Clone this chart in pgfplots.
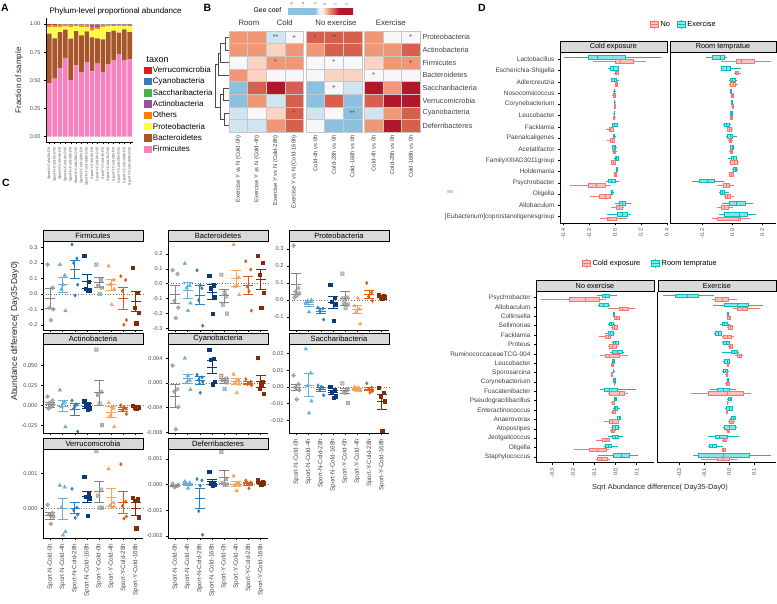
\documentclass[border=0pt]{standalone}
\usepackage{fontspec}
\setmainfont{Liberation Sans}
\usepackage{pgfplots}
\pgfplotsset{compat=1.18}
\usepgfplotslibrary{statistics}
\definecolor{cV}{HTML}{E41A1C}
\definecolor{cC}{HTML}{377EB8}
\definecolor{cS}{HTML}{4DAF4A}
\definecolor{cA}{HTML}{984EA3}
\definecolor{cO}{HTML}{FF7F00}
\definecolor{cP}{HTML}{FFFF33}
\definecolor{cB}{HTML}{A65628}
\definecolor{cF}{HTML}{F781BF}
\definecolor{cG}{HTML}{9A9A9A}
\definecolor{cGd}{HTML}{858585}
\definecolor{cN4}{HTML}{6BAED6}
\definecolor{cN28}{HTML}{2F7EBC}
\definecolor{cN168}{HTML}{0B3A78}
\definecolor{cY4}{HTML}{F7A35C}
\definecolor{cY28}{HTML}{E25A12}
\definecolor{cY168}{HTML}{852C06}
\definecolor{salm}{HTML}{F8766D}
\definecolor{tealc}{HTML}{00BFC4}
\definecolor{artif}{RGB}{226,200,214}
\pgfdeclareplotmark{dplus}{%
  \pgfpathmoveto{\pgfqpoint{0pt}{\pgfplotmarksize}}%
  \pgfpathlineto{\pgfqpoint{\pgfplotmarksize}{0pt}}%
  \pgfpathlineto{\pgfqpoint{0pt}{-\pgfplotmarksize}}%
  \pgfpathlineto{\pgfqpoint{-\pgfplotmarksize}{0pt}}%
  \pgfpathclose
  \pgfpathmoveto{\pgfqpoint{0pt}{\pgfplotmarksize}}%
  \pgfpathlineto{\pgfqpoint{0pt}{-\pgfplotmarksize}}%
  \pgfpathmoveto{\pgfqpoint{\pgfplotmarksize}{0pt}}%
  \pgfpathlineto{\pgfqpoint{-\pgfplotmarksize}{0pt}}%
  \pgfusepathqstroke}
\pgfdeclareplotmark{sqx}{%
  \pgfpathrectangle{\pgfqpoint{-\pgfplotmarksize}{-\pgfplotmarksize}}{\pgfqpoint{2\pgfplotmarksize}{2\pgfplotmarksize}}%
  \pgfpathmoveto{\pgfqpoint{-\pgfplotmarksize}{-\pgfplotmarksize}}%
  \pgfpathlineto{\pgfqpoint{\pgfplotmarksize}{\pgfplotmarksize}}%
  \pgfpathmoveto{\pgfqpoint{-\pgfplotmarksize}{\pgfplotmarksize}}%
  \pgfpathlineto{\pgfqpoint{\pgfplotmarksize}{-\pgfplotmarksize}}%
  \pgfusepathqstroke}
\pgfplotsset{
  every axis/.append style={/pgf/number format/assume math mode=true},
  every axis title shift=0pt,
  cfac/.style={anchor=north west, scale only axis, width=100pt, height=89pt, xmin=0.4, xmax=8.6,
    axis x line*=bottom, axis y line*=left, axis line style={black, line width=0.5pt},
    tick style={black, line width=0.4pt}, major tick length=2pt, tick align=outside,
    xtick={1,2,3,4,5,6,7,8}, xticklabels={}, scaled y ticks=false,
    yticklabel style={font=\fontsize{5.6}{6}\selectfont, text=black!70, /pgf/number format/fixed, /pgf/number format/fixed zerofill},
    title style={at={(0.5,1)}, anchor=south, yshift=0pt, draw=black, line width=0.4pt, fill=black!15, minimum width=100pt, minimum height=11pt, inner sep=0pt, font=\fontsize{7.6}{8}\selectfont},
    clip=false},
  cxlab/.style={xticklabels={Sport-N-Cold-0h,Sport-N-Cold-4h,Sport-N-Cold-28h,Sport-N-Cold-168h,Sport-Y-Cold-0h,Sport-Y-Cold-4h,Sport-Y-Cold-28h,Sport-Y-Cold-168h}, xticklabel style={rotate=90, anchor=east, font=\fontsize{6.3}{7}\selectfont, text=black!70}},
  pts/.style={scatter, only marks, scatter src=explicit symbolic, scatter/classes={
    a={mark=dplus, draw=cG, mark size=2pt, line width=0.5pt},
    b={mark=triangle*, draw=cN4, fill=cN4, mark size=2.1pt},
    c={mark=diamond*, draw=cN28, fill=cN28, mark size=1.7pt},
    d={mark=square*, draw=cN168, fill=cN168, mark size=1.6pt},
    e={mark=sqx, draw=cG, mark size=1.7pt, line width=0.5pt},
    f={mark=triangle*, draw=cY4, fill=cY4, mark size=2.1pt},
    g={mark=diamond*, draw=cY28, fill=cY28, mark size=1.7pt},
    h={mark=square*, draw=cY168, fill=cY168, mark size=1.6pt}}},
  zl/.style={black!55, dotted, line width=0.7pt, forget plot},
  dfac/.style={anchor=north west, scale only axis, axis x line*=bottom, axis y line*=left, axis line style={black, line width=0.5pt},
    tick style={black, line width=0.4pt}, major tick length=2pt, tick align=outside, scaled x ticks=false,
    xticklabel style={rotate=90, anchor=east, font=\fontsize{5.5}{6}\selectfont, text=black!70, /pgf/number format/fixed, /pgf/number format/fixed zerofill, /pgf/number format/precision=1},
    yticklabel style={font=\fontsize{6.5}{7}\selectfont, text=black!75},
    title style={at={(0.5,1)}, anchor=south, yshift=0pt, draw=black, line width=0.4pt, fill=black!15, inner sep=0pt, minimum height=11pt, font=\fontsize{7.3}{8}\selectfont},
    clip=false},
  bT/.style={draw=tealc, fill=tealc!45, line width=0.4pt},
  bS/.style={draw=salm, fill=salm!45, line width=0.4pt},
}
\newcommand{\mse}[4]{\addplot[only marks, mark=-, mark size=5pt, mark options={#1, line width=0.65pt}, error bars/.cd, y dir=both, y explicit, error bar style={#1, line width=0.6pt}, error mark options={rotate=90, #1, mark size=5pt, line width=0.6pt}] coordinates {(#2,#3) +- (0,#4)};}
\def\bxe{0.34}
\newcommand{\bx}[7]{\addplot[#7, boxplot prepared={draw direction=x, draw position=#1, lower whisker=#2, lower quartile=#3, median=#4, upper quartile=#5, upper whisker=#6, box extend=\bxe, whisker extend=0}] coordinates {};}
\newcommand{\pl}[1]{\fontsize{10.5}{12}\selectfont\bfseries #1}
\begin{document}
\begin{tikzpicture}
\path[use as bounding box] (0pt,0pt) rectangle (777pt,604pt);
% panel labels
\node at (5pt,596pt) {\pl{A}};
\node at (207.5pt,596.5pt) {\pl{B}};
\node at (6pt,421pt) {\pl{C}};
\node at (482pt,596pt) {\pl{D}};
%================ A
\begin{axis}[at={(46pt,585.6pt)}, anchor=north west, scale only axis, width=87pt, height=123.9pt,
  xmin=0.4, xmax=16.6, ymin=-0.05, ymax=1.05, ybar stacked, bar width=0.86,
  axis x line*=bottom, axis y line*=left, axis line style={black, line width=0.5pt},
  tick style={black, line width=0.4pt}, major tick length=2pt, tick align=outside,
  ytick={0,0.25,0.5,0.75,1},
  yticklabel style={/pgf/number format/fixed, /pgf/number format/fixed zerofill, /pgf/number format/precision=2, font=\fontsize{5.5}{6}\selectfont, text=black!70},
  xtick={1,...,16},
  xticklabels={Sport-N-Cold-0h-D0,Sport-N-Cold-0h-D35,Sport-N-Cold-4h-D0,Sport-N-Cold-4h-D35,Sport-N-Cold-28h-D0,Sport-N-Cold-28h-D35,Sport-N-Cold-168h-D0,Sport-N-Cold-168h-D35,Sport-Y-Cold-0h-D0,Sport-Y-Cold-0h-D35,Sport-Y-Cold-4h-D0,Sport-Y-Cold-4h-D35,Sport-Y-Cold-28h-D0,Sport-Y-Cold-28h-D35,Sport-Y-Cold-168h-D0,Sport-Y-Cold-168h-D35},
  xticklabel style={rotate=90, anchor=east, font=\fontsize{3.6}{4}\selectfont, text=black!70},
  ylabel={Fraction of sample}, ylabel style={font=\fontsize{8}{9}\selectfont, text=black!85},
  title={Phylum-level proportional abundance}, title style={at={(0,1)}, anchor=south west, yshift=0pt, font=\fontsize{8}{9}\selectfont}]
\addplot[fill=cF, draw=none] coordinates {(1,0.473) (2,0.515) (3,0.610) (4,0.700) (5,0.503) (6,0.633) (7,0.568) (8,0.663) (9,0.580) (10,0.648) (11,0.568) (12,0.642) (13,0.680) (14,0.734) (15,0.680) (16,0.686)};
\addplot[fill=cB, draw=none] coordinates {(1,0.441) (2,0.358) (3,0.319) (4,0.250) (5,0.367) (6,0.305) (7,0.332) (8,0.272) (9,0.302) (10,0.225) (11,0.296) (12,0.287) (13,0.261) (14,0.189) (15,0.273) (16,0.243)};
\addplot[fill=cP, draw=none] coordinates {(1,0.060) (2,0.100) (3,0.045) (4,0.030) (5,0.105) (6,0.040) (7,0.075) (8,0.040) (9,0.060) (10,0.085) (11,0.110) (12,0.050) (13,0.040) (14,0.060) (15,0.030) (16,0.050)};
\addplot[fill=cO, draw=none] coordinates {(1,0.012) (2,0.012) (3,0.012) (4,0.010) (5,0.012) (6,0.012) (7,0.014) (8,0.012) (9,0.025) (10,0.015) (11,0.012) (12,0.010) (13,0.010) (14,0.010) (15,0.010) (16,0.012)};
\addplot[fill=cA, draw=none] coordinates {(1,0.004) (2,0.005) (3,0.006) (4,0.004) (5,0.005) (6,0.004) (7,0.005) (8,0.008) (9,0.025) (10,0.020) (11,0.008) (12,0.006) (13,0.005) (14,0.004) (15,0.004) (16,0.005)};
\addplot[fill=cS, draw=none] coordinates {(1,0.002) (2,0.002) (3,0.002) (4,0.002) (5,0.002) (6,0.002) (7,0.002) (8,0.002) (9,0.003) (10,0.002) (11,0.002) (12,0.002) (13,0.002) (14,0.002) (15,0.002) (16,0.002)};
\addplot[fill=cC, draw=none] coordinates {(1,0.001) (2,0.001) (3,0.001) (4,0.001) (5,0.001) (6,0.001) (7,0.001) (8,0.001) (9,0.001) (10,0.001) (11,0.001) (12,0.001) (13,0.001) (14,0.001) (15,0.001) (16,0.001)};
\addplot[fill=cV, draw=none] coordinates {(1,0.007) (2,0.007) (3,0.005) (4,0.003) (5,0.005) (6,0.003) (7,0.003) (8,0.002) (9,0.004) (10,0.004) (11,0.003) (12,0.002) (13,0.001) (14,0.000) (15,0.000) (16,0.001)};
\end{axis}
% A legend
\begin{axis}[at={(46pt,585.6pt)}, anchor=north west, scale only axis, width=87pt, height=123.9pt, hide axis, xmin=0, xmax=1, ymin=0, ymax=1,
  legend style={at={(1.126,0.616)}, anchor=north west, draw=none, fill=none, font=\fontsize{8}{9}\selectfont, row sep=2.6pt, inner sep=0pt, nodes={inner sep=0.8pt, text height=5.6pt, text depth=1.5pt}},
  legend cell align=left, legend image code/.code={\fill[#1] (0pt,-3.4pt) rectangle (8pt,4pt);}]
\addplot[draw=none, forget plot] coordinates {(0,0)};
\addlegendimage{fill=cV, draw=none}\addlegendentry{Verrucomicrobia}
\addlegendimage{fill=cC, draw=none}\addlegendentry{Cyanobacteria}
\addlegendimage{fill=cS, draw=none}\addlegendentry{Saccharibacteria}
\addlegendimage{fill=cA, draw=none}\addlegendentry{Actinobacteria}
\addlegendimage{fill=cO, draw=none}\addlegendentry{Others}
\addlegendimage{fill=cP, draw=none}\addlegendentry{Proteobacteria}
\addlegendimage{fill=cB, draw=none}\addlegendentry{Bacteroidetes}
\addlegendimage{fill=cF, draw=none}\addlegendentry{Firmicutes}
\end{axis}
\node[anchor=west, font=\fontsize{9}{10}\selectfont] at (143pt,544pt) {taxon};
%================ B
\begin{axis}[at={(229pt,573pt)}, anchor=north west, scale only axis, width=191pt, height=101pt,
  xmin=0, xmax=10.268, ymin=0, ymax=8, axis line style={draw=none}, tick style={draw=none}, clip=false,
  colormap={gee}{[1pt] rgb255(0pt)=(140,192,222) rgb255(43pt)=(140,192,222) rgb255(46pt)=(209,229,240) rgb255(52pt)=(247,247,247) rgb255(57pt)=(250,212,192) rgb255(63pt)=(240,152,118) rgb255(71pt)=(214,96,77) rgb255(78pt)=(178,24,43) rgb255(100pt)=(178,24,43)},
  point meta min=0, point meta max=100,
  colorbar horizontal, colorbar style={at={(0.3037,1.168)}, anchor=south west, scale only axis, width=66pt, height=5.3pt, xtick=\empty, axis line style={draw=none}},
  ytick={0.5,1.5,2.5,3.5,4.5,5.5,6.5,7.5},
  yticklabels={Deferribacteres,Cyanobacteria,Verrucomicrobia,Saccharibacteria,Bacteroidetes,Firmicutes,Actinobacteria,Proteobacteria},
  yticklabel pos=right, yticklabel style={font=\fontsize{7.3}{8}\selectfont, text=black!75, xshift=-1pt},
  xtick={0.5,1.5,2.5,3.5,4.634,5.634,6.634,7.768,8.768,9.768},
  xticklabels={Exercise Y vs N (Cold-0h),Exercise Y vs N (Cold-4h),Exercise Y vs N (Cold-28h),Exercise Y vs N (Cold-168h),Cold-4h vs 0h,Cold-28h vs 0h,Cold-168h vs 0h,Cold-4h vs 0h,Cold-28h vs 0h,Cold-168h vs 0h},
  xticklabel style={rotate=90, anchor=east, font=\fontsize{5.8}{6}\selectfont, text=black!75}]
\addplot[scatter, only marks, mark=square*, mark size=6.31pt, scatter src=explicit,
  scatter/use mapped color={draw=black!22, fill=mapped color}, mark options={xscale=1.473, line width=0.35pt}]
  table[row sep=\\, meta=c] {x y c\\
0.5 7.5 63\\ 1.5 7.5 63\\ 2.5 7.5 46\\ 3.5 7.5 52\\ 4.634 7.5 71\\ 5.634 7.5 71\\ 6.634 7.5 71\\ 7.768 7.5 63\\ 8.768 7.5 52\\ 9.768 7.5 52\\
0.5 6.5 63\\ 1.5 6.5 63\\ 2.5 6.5 57\\ 3.5 6.5 63\\ 4.634 6.5 63\\ 5.634 6.5 71\\ 6.634 6.5 71\\ 7.768 6.5 63\\ 8.768 6.5 63\\ 9.768 6.5 71\\
0.5 5.5 52\\ 1.5 5.5 57\\ 2.5 5.5 63\\ 3.5 5.5 63\\ 4.634 5.5 52\\ 5.634 5.5 52\\ 6.634 5.5 52\\ 7.768 5.5 57\\ 8.768 5.5 63\\ 9.768 5.5 63\\
0.5 4.5 63\\ 1.5 4.5 57\\ 2.5 4.5 52\\ 3.5 4.5 52\\ 4.634 4.5 52\\ 5.634 4.5 57\\ 6.634 4.5 57\\ 7.768 4.5 52\\ 8.768 4.5 52\\ 9.768 4.5 52\\
0.5 3.5 20\\ 1.5 3.5 71\\ 2.5 3.5 85\\ 3.5 3.5 71\\ 4.634 3.5 20\\ 5.634 3.5 52\\ 6.634 3.5 46\\ 7.768 3.5 85\\ 8.768 3.5 63\\ 9.768 3.5 85\\
0.5 2.5 20\\ 1.5 2.5 63\\ 2.5 2.5 46\\ 3.5 2.5 71\\ 4.634 2.5 20\\ 5.634 2.5 71\\ 6.634 2.5 20\\ 7.768 2.5 71\\ 8.768 2.5 85\\ 9.768 2.5 85\\
0.5 1.5 46\\ 1.5 1.5 52\\ 2.5 1.5 57\\ 3.5 1.5 71\\ 4.634 1.5 46\\ 5.634 1.5 52\\ 6.634 1.5 20\\ 7.768 1.5 46\\ 8.768 1.5 63\\ 9.768 1.5 71\\
0.5 0.5 46\\ 1.5 0.5 46\\ 2.5 0.5 63\\ 3.5 0.5 71\\ 4.634 0.5 52\\ 5.634 0.5 20\\ 6.634 0.5 20\\ 7.768 0.5 63\\ 8.768 0.5 85\\ 9.768 0.5 71\\
};
\addplot[only marks, mark=none, nodes near coords, point meta=explicit symbolic,
  nodes near coords style={anchor=center, font=\fontsize{7}{7}\selectfont, text=black!70, inner sep=0pt}]
  table[row sep=\\, meta=t] {x y t\\
2.5 7.5 **\\ 3.5 7.5 +\\ 4.634 7.5 *\\ 5.634 7.5 **\\ 9.768 7.5 *\\
2.5 5.5 *\\ 5.634 5.5 *\\ 9.768 5.5 +\\ 7.768 4.5 *\\
5.634 3.5 +\\ 9.768 3.5 **\\ 3.5 1.5 *\\ 6.634 1.5 **\\
};
\draw[black!45, line width=0.5pt] (axis cs:0,0) rectangle (axis cs:4,8);
\draw[black!45, line width=0.5pt] (axis cs:4.134,0) rectangle (axis cs:7.134,8);
\draw[black!45, line width=0.5pt] (axis cs:7.268,0) rectangle (axis cs:10.268,8);
\draw[black!70, line width=0.4pt] (axis cs:0,7.5) -- (axis cs:-0.21,7.5) -- (axis cs:-0.21,6.5) -- (axis cs:0,6.5);
\draw[black!70, line width=0.4pt] (axis cs:-0.21,7) -- (axis cs:-0.45,7) -- (axis cs:-0.45,5.5) -- (axis cs:0,5.5);
\draw[black!70, line width=0.4pt] (axis cs:-0.45,6.25) -- (axis cs:-0.6,6.25) -- (axis cs:-0.6,4.5) -- (axis cs:0,4.5);
\draw[black!70, line width=0.4pt] (axis cs:0,3.5) -- (axis cs:-0.3,3.5) -- (axis cs:-0.3,2.5) -- (axis cs:0,2.5);
\draw[black!70, line width=0.4pt] (axis cs:0,1.5) -- (axis cs:-0.25,1.5) -- (axis cs:-0.25,0.5) -- (axis cs:0,0.5);
\draw[black!70, line width=0.4pt] (axis cs:-0.3,3) -- (axis cs:-0.48,3) -- (axis cs:-0.48,1) -- (axis cs:-0.25,1);
\draw[black!70, line width=0.4pt] (axis cs:-0.6,5.375) -- (axis cs:-0.75,5.375) -- (axis cs:-0.75,2) -- (axis cs:-0.48,2);
\node[anchor=south, font=\fontsize{7.8}{8}\selectfont, text=black!80, yshift=1.5pt] at (axis cs:1.07,8) {Room};
\node[anchor=south, font=\fontsize{7.8}{8}\selectfont, text=black!80, yshift=1.5pt] at (axis cs:3.0,8) {Cold};
\node[anchor=south, font=\fontsize{7.8}{8}\selectfont, text=black!80, yshift=1.5pt] at (axis cs:5.75,8) {No exercise};
\node[anchor=south, font=\fontsize{7.8}{8}\selectfont, text=black!80, yshift=1.5pt] at (axis cs:8.7,8) {Exercise};
\end{axis}
\node[font=\fontsize{6.8}{7}\selectfont] at (267.5pt,594pt) {Gee coef};
\foreach \xx/\tt in {291.7/-6,303.3/-4,315/-2,325/0,335/2,346.7/4}
  \node[rotate=90, font=\fontsize{3.6}{4}\selectfont, text=black!70] at (\xx pt,599.5pt) {\tt};
%================ C
\node[rotate=90, font=\fontsize{8.6}{9}\selectfont, text=black!85] at (15pt,273pt) {Abundance difference( Day35-Day0)};
\begin{axis}[cfac, at={(43pt,363pt)}, title={Firmicutes}, ymin=-0.234, ymax=0.343, ytick={-0.2,-0.1,0,0.1,0.2,0.3}, yticklabel style={/pgf/number format/precision=1}]
\addplot[zl] coordinates {(0.4,0) (8.6,0)};
\addplot[pts] table[row sep=\\, meta=c] {x y c\\
0.78 0.19 a\\ 1.18 0.04 a\\ 0.92 -0.09 a\\ 1.24 -0.10 a\\ 1.04 -0.17 a\\
1.78 0.19 b\\ 2.18 0.12 b\\ 1.92 0.03 b\\ 2.24 -0.11 b\\ 2.04 0.06 b\\
2.78 0.32 c\\ 3.18 0.23 c\\ 2.92 0.20 c\\ 3.24 0.06 c\\ 3.04 -0.01 c\\
3.78 0.25 d\\ 4.18 0.08 d\\ 3.92 0.035 d\\ 4.24 0.02 d\\ 4.04 0.02 d\\
4.78 0.19 e\\ 5.18 0.09 e\\ 4.92 0.05 e\\ 5.24 0.04 e\\ 5.04 0.0 e\\
5.78 0.18 f\\ 6.18 0.09 f\\ 5.92 0.06 f\\ 6.24 0.03 f\\ 6.04 -0.07 f\\
6.78 0.115 g\\ 7.18 0.09 g\\ 6.92 0.02 g\\ 7.24 -0.17 g\\ 7.04 -0.20 g\\
7.78 0.17 h\\ 8.18 0.006 h\\ 7.92 -0.09 h\\ 8.24 -0.12 h\\ 8.04 -0.19 h\\
};
\mse{cGd}{1}{-0.03}{0.065}\mse{cN4}{2}{0.06}{0.05}\mse{cN28}{3}{0.16}{0.06}\mse{cN168}{4}{0.08}{0.045}
\mse{cGd}{5}{0.075}{0.03}\mse{cY4}{6}{0.06}{0.035}\mse{cY28}{7}{-0.03}{0.07}\mse{cY168}{8}{-0.045}{0.065}
\end{axis}
\begin{axis}[cfac, at={(168pt,363pt)}, title={Bacteroidetes}, ymin=-0.309, ymax=0.285, ytick={-0.3,-0.2,-0.1,0,0.1,0.2}, yticklabel style={/pgf/number format/precision=1}]
\addplot[zl] coordinates {(0.4,0) (8.6,0)};
\addplot[pts] table[row sep=\\, meta=c] {x y c\\
0.78 0.09 a\\ 1.18 0.065 a\\ 0.92 -0.115 a\\ 1.24 -0.16 a\\ 1.04 -0.23 a\\
1.78 0.135 b\\ 2.18 -0.013 b\\ 1.92 -0.03 b\\ 2.24 -0.13 b\\ 2.04 -0.18 b\\
2.78 0.09 c\\ 3.18 -0.03 c\\ 2.92 -0.11 c\\ 3.24 -0.28 c\\ 3.04 -0.01 c\\
3.78 0.056 d\\ 4.18 -0.01 d\\ 3.92 -0.03 d\\ 4.24 -0.085 d\\ 4.04 -0.20 d\\
4.78 0.06 e\\ 5.18 -0.085 e\\ 4.92 -0.14 e\\ 5.24 -0.2 e\\ 5.04 -0.06 e\\
5.78 0.26 f\\ 6.18 0.04 f\\ 5.92 -0.02 f\\ 6.24 -0.075 f\\ 6.04 -0.01 f\\
6.78 0.15 g\\ 7.18 0.095 g\\ 6.92 -0.02 g\\ 7.24 -0.18 g\\ 7.04 -0.05 g\\
7.78 0.185 h\\ 8.18 0.14 h\\ 7.92 0.06 h\\ 8.24 -0.06 h\\ 8.04 -0.16 h\\
};
\mse{cGd}{1}{-0.07}{0.06}\mse{cN4}{2}{-0.045}{0.055}\mse{cN28}{3}{-0.075}{0.065}\mse{cN168}{4}{-0.055}{0.05}
\mse{cGd}{5}{-0.08}{0.045}\mse{cY4}{6}{0.035}{0.055}\mse{cY28}{7}{-0.01}{0.06}\mse{cY168}{8}{0.03}{0.065}
\end{axis}
\begin{axis}[cfac, at={(289pt,363pt)}, title={Proteobacteria}, ymin=-0.176, ymax=0.347, ytick={-0.1,0,0.1,0.2,0.3}, yticklabel style={/pgf/number format/precision=1}]
\addplot[zl] coordinates {(0.4,0) (8.6,0)};
\addplot[pts] table[row sep=\\, meta=c] {x y c\\
0.78 0.32 a\\ 1.18 0.07 a\\ 0.92 0.05 a\\ 1.24 0.04 a\\ 1.04 0.025 a\\ 0.85 0.015 a\\
1.78 -0.02 b\\ 2.18 -0.01 b\\ 1.92 -0.005 b\\ 2.24 0.0 b\\ 2.04 -0.07 b\\
2.78 -0.045 c\\ 3.18 -0.05 c\\ 2.92 -0.065 c\\ 3.24 -0.115 c\\
3.78 0.09 d\\ 4.18 0.015 d\\ 3.92 -0.008 d\\ 4.24 -0.026 d\\ 4.04 -0.12 d\\
4.78 0.155 e\\ 5.18 0.015 e\\ 4.92 -0.017 e\\ 5.24 -0.026 e\\ 5.04 -0.048 e\\ 4.85 0.01 e\\
5.78 -0.035 f\\ 6.18 -0.054 f\\ 5.92 -0.072 f\\ 6.24 -0.14 f\\ 6.04 0.011 f\\
6.78 0.10 g\\ 7.18 0.044 g\\ 6.92 0.02 g\\ 7.24 -0.004 g\\
7.78 0.03 h\\ 8.18 0.024 h\\ 7.92 0.017 h\\ 8.24 0.015 h\\ 8.04 0.01 h\\
};
\mse{cGd}{1}{0.095}{0.06}\mse{cN4}{2}{-0.025}{0.012}\mse{cN28}{3}{-0.065}{0.015}\mse{cN168}{4}{-0.015}{0.035}
\mse{cGd}{5}{0.01}{0.04}\mse{cY4}{6}{-0.055}{0.025}\mse{cY28}{7}{0.035}{0.022}\mse{cY168}{8}{0.02}{0.006}
\end{axis}
\begin{axis}[cfac, at={(43pt,260pt)}, title={Actinobacteria}, ymin=-0.0348, ymax=0.077, ytick={-0.025,0,0.025,0.05}, yticklabel style={/pgf/number format/precision=3}]
\addplot[zl] coordinates {(0.4,0) (8.6,0)};
\addplot[pts] table[row sep=\\, meta=c] {x y c\\
0.78 0.011 a\\ 1.18 0.006 a\\ 0.92 0.003 a\\ 1.24 0.001 a\\ 1.04 -0.002 a\\ 0.85 -0.004 a\\
1.78 0.019 b\\ 2.18 0.004 b\\ 1.92 -0.002 b\\ 2.24 -0.027 b\\ 2.04 0.002 b\\
2.78 0.006 c\\ 3.18 0.001 c\\ 2.92 -0.004 c\\ 3.24 -0.033 c\\ 3.04 -0.001 c\\
3.78 0.0055 d\\ 4.18 0.002 d\\ 3.92 -0.001 d\\ 4.24 -0.004 d\\ 4.04 -0.006 d\\
4.78 0.07 e\\ 5.18 0.017 e\\ 4.92 0.013 e\\ 5.24 -0.025 e\\ 5.04 0.002 e\\
5.78 0.003 f\\ 6.18 -0.004 f\\ 5.92 -0.013 f\\ 6.24 -0.027 f\\ 6.04 -0.002 f\\
6.78 0.0 g\\ 7.18 -0.004 g\\ 6.92 -0.006 g\\ 7.24 -0.011 g\\ 7.04 -0.002 g\\
7.78 -0.0004 h\\ 8.18 -0.0017 h\\ 7.92 -0.0025 h\\ 8.24 -0.003 h\\ 8.04 -0.004 h\\
};
\mse{cGd}{1}{0.001}{0.003}\mse{cN4}{2}{-0.001}{0.007}\mse{cN28}{3}{-0.005}{0.007}\mse{cN168}{4}{-0.001}{0.003}
\mse{cGd}{5}{0.016}{0.016}\mse{cY4}{6}{-0.0085}{0.007}\mse{cY28}{7}{-0.005}{0.003}\mse{cY168}{8}{-0.002}{0.001}
\end{axis}
\begin{axis}[cfac, at={(168pt,260pt)}, title={Cyanobacteria}, ymin=-0.0081, ymax=0.0063, ytick={-0.008,-0.004,0,0.004}, yticklabel style={/pgf/number format/precision=3}]
\addplot[zl] coordinates {(0.4,0) (8.6,0)};
\addplot[pts] table[row sep=\\, meta=c] {x y c\\
0.78 0.0028 a\\ 1.18 -0.001 a\\ 0.92 -0.0014 a\\ 1.24 -0.0039 a\\ 1.04 -0.0075 a\\
1.78 0.004 b\\ 2.18 0.0004 b\\ 1.92 0.0 b\\ 2.24 -0.0011 b\\ 2.04 0.0012 b\\
2.78 0.0013 c\\ 3.18 0.0009 c\\ 2.92 0.0005 c\\ 3.24 0.0002 c\\ 3.04 -0.0016 c\\
3.78 0.0054 d\\ 4.18 0.0039 d\\ 3.92 0.0038 d\\ 4.24 0.0002 d\\ 4.04 -0.0002 d\\
4.78 0.0012 e\\ 5.18 0.0007 e\\ 4.92 0.0004 e\\ 5.24 0.0001 e\\ 5.04 -0.001 e\\
5.78 0.0014 f\\ 6.18 0.0005 f\\ 5.92 0.0001 f\\ 6.24 -0.0002 f\\ 6.04 -0.0016 f\\
6.78 0.0006 g\\ 7.18 0.0002 g\\ 6.92 -0.0002 g\\ 7.24 -0.0004 g\\ 7.04 0.0 g\\
7.78 0.0041 h\\ 8.18 0.0002 h\\ 7.92 -0.0009 h\\ 8.24 -0.0018 h\\ 8.04 -0.0002 h\\
};
\mse{cGd}{1}{-0.0021}{0.0018}\mse{cN4}{2}{0.0007}{0.0007}\mse{cN28}{3}{0.0004}{0.0006}\mse{cN168}{4}{0.0026}{0.0011}
\mse{cGd}{5}{0.0004}{0.0004}\mse{cY4}{6}{0.0003}{0.0005}\mse{cY28}{7}{0.0}{0.0003}\mse{cY168}{8}{0.0003}{0.001}
\end{axis}
\begin{axis}[cfac, cxlab, at={(289pt,260pt)}, title={Saccharibacteria}, ymin=-0.0276, ymax=0.0258, ytick={-0.02,-0.01,0,0.01,0.02}, yticklabel style={/pgf/number format/precision=2}]
\addplot[zl] coordinates {(0.4,0) (8.6,0)};
\addplot[pts] table[row sep=\\, meta=c] {x y c\\
0.78 0.007 a\\ 1.18 0.0016 a\\ 0.92 -0.0004 a\\ 1.24 -0.0018 a\\ 1.04 -0.0075 a\\
1.78 0.0228 b\\ 2.18 0.0083 b\\ 1.92 0.0006 b\\ 2.24 -0.0085 b\\ 2.04 -0.0156 b\\
2.78 0.001 c\\ 3.18 -0.0004 c\\ 2.92 -0.0014 c\\ 3.24 -0.005 c\\ 3.04 0.0002 c\\
3.78 0.0 d\\ 4.18 -0.0014 d\\ 3.92 -0.003 d\\ 4.24 -0.0055 d\\ 4.04 -0.0065 d\\
4.78 0.0022 e\\ 5.18 -0.0014 e\\ 4.92 -0.003 e\\ 5.24 -0.0095 e\\ 5.04 -0.0034 e\\
5.78 0.0 f\\ 6.18 -0.001 f\\ 5.92 -0.002 f\\ 6.24 -0.0024 f\\ 6.04 -0.0004 f\\
6.78 0.0022 g\\ 7.18 -0.0004 g\\ 6.92 -0.0014 g\\ 7.24 -0.0024 g\\ 7.04 -0.0034 g\\
7.78 -0.0004 h\\ 8.18 -0.0034 h\\ 7.92 -0.0055 h\\ 8.24 -0.0085 h\\ 8.04 -0.026 h\\
};
\mse{cGd}{1}{0.0}{0.0018}\mse{cN4}{2}{0.0013}{0.0068}\mse{cN28}{3}{-0.0011}{0.0012}\mse{cN168}{4}{-0.0033}{0.0013}
\mse{cGd}{5}{-0.0022}{0.0017}\mse{cY4}{6}{-0.0012}{0.0007}\mse{cY28}{7}{-0.0011}{0.001}\mse{cY168}{8}{-0.0088}{0.0045}
\end{axis}
\begin{axis}[cfac, cxlab, at={(43pt,155pt)}, title={Verrucomicrobia}, ymin=-0.00083, ymax=0.00169, ytick={0,0.001}, yticklabel style={/pgf/number format/precision=3}]
\addplot[zl] coordinates {(0.4,0) (8.6,0)};
\addplot[pts] table[row sep=\\, meta=c] {x y c\\
0.78 0.00011 a\\ 1.18 -0.00012 a\\ 0.92 -0.00017 a\\ 1.24 -0.00023 a\\ 1.04 -0.00043 a\\
1.78 0.00066 b\\ 2.18 0.00061 b\\ 1.92 0.00003 b\\ 2.24 -0.00065 b\\ 2.04 -0.00075 b\\
2.78 0.00056 c\\ 3.18 0.00003 c\\ 2.92 -0.00004 c\\ 3.24 -0.00017 c\\ 3.04 -0.00026 c\\
3.78 0.0009 d\\ 4.18 0.00042 d\\ 3.92 0.00034 d\\ 4.24 0.00029 d\\ 4.04 -0.00021 d\\
4.78 0.00163 e\\ 5.18 0.00054 e\\ 4.92 0.00037 e\\ 5.24 0.00003 e\\ 5.04 0.00003 e\\
5.78 0.00113 f\\ 6.18 0.00017 f\\ 5.92 0.0001 f\\ 6.24 0.00006 f\\ 6.04 0.00003 f\\
6.78 0.00126 g\\ 7.18 0.0002 g\\ 6.92 0.00008 g\\ 7.24 -0.00022 g\\ 7.04 -0.00028 g\\
7.78 0.00032 h\\ 8.18 0.00027 h\\ 7.92 0.00022 h\\ 8.24 -0.00026 h\\ 8.04 -0.00055 h\\
};
\mse{cGd}{1}{-0.0002}{0.00009}\mse{cN4}{2}{0.0}{0.0003}\mse{cN28}{3}{0.00002}{0.00016}\mse{cN168}{4}{0.00034}{0.00016}
\mse{cGd}{5}{0.00048}{0.0003}\mse{cY4}{6}{0.00033}{0.00026}\mse{cY28}{7}{0.00018}{0.0003}\mse{cY168}{8}{0.0}{0.00018}
\end{axis}
\begin{axis}[cfac, cxlab, at={(168pt,155pt)}, title={Deferribacteres}, ymin=-0.00208, ymax=0.00139, ytick={-0.002,-0.001,0,0.001}, yticklabel style={/pgf/number format/precision=3}]
\addplot[zl] coordinates {(0.4,0) (8.6,0)};
\addplot[pts] table[row sep=\\, meta=c] {x y c\\
0.78 0.00003 a\\ 1.18 -0.00004 a\\ 0.92 -0.0001 a\\ 1.24 -0.00001 a\\ 1.04 -0.00007 a\\
1.78 0.00012 b\\ 2.18 0.00007 b\\ 1.92 0.00003 b\\ 2.24 -0.00001 b\\ 2.04 -0.00014 b\\
2.78 0.00022 c\\ 3.18 0.00017 c\\ 2.92 -0.00103 c\\ 3.24 -0.00195 c\\ 3.04 -0.00004 c\\
3.78 0.00051 d\\ 4.18 0.00009 d\\ 3.92 0.00003 d\\ 4.24 -0.00001 d\\ 4.04 -0.00004 d\\
4.78 0.00128 e\\ 5.18 0.00022 e\\ 4.92 0.00007 e\\ 5.24 0.0 e\\ 5.04 -0.00001 e\\
5.78 0.00033 f\\ 6.18 0.00007 f\\ 5.92 -0.00001 f\\ 6.24 -0.00004 f\\ 6.04 -0.00024 f\\
6.78 0.00016 g\\ 7.18 0.00009 g\\ 6.92 0.00007 g\\ 7.24 0.00003 g\\ 7.04 -0.00014 g\\
7.78 0.0002 h\\ 8.18 0.00012 h\\ 7.92 0.00007 h\\ 8.24 0.00003 h\\ 8.04 -0.00001 h\\
};
\mse{cGd}{1}{-0.00004}{0.00003}\mse{cN4}{2}{0.00001}{0.00005}\mse{cN28}{3}{-0.00053}{0.0004}\mse{cN168}{4}{0.00012}{0.00009}
\mse{cGd}{5}{0.0003}{0.00024}\mse{cY4}{6}{0.00002}{0.0001}\mse{cY28}{7}{0.00004}{0.00005}\mse{cY168}{8}{0.00008}{0.00004}
\end{axis}
\fill[artif] (447pt,411pt) rectangle (453pt,414pt);
%================ D top
\begin{axis}[dfac, at={(560pt,551.3pt)}, width=106.7pt, height=170.6pt, xmin=-0.4255, xmax=0.4, ymin=0.4, ymax=15.6,
  title={Cold exposure}, title style={minimum width=106.7pt},
  xtick={-0.4,-0.2,0,0.2,0.4}, ytick={1,...,15},
  yticklabels={{[Eubacterium]coprostanoligenesgroup},Allobaculum,Oligella,Psychrobacter,Holdemania,FamilyXIIIAD3011group,Acetatifactor,Paenalcaligenes,Facklamia,Leucobacter,Corynebacterium,Nosocomiicoccus,Adlercreutzia,Escherichia-Shigella,Lactobacillus}]
\bx{15.19}{-0.395}{-0.207}{-0.137}{0.078}{0.354}{bT}\bx{14.81}{-0.171}{0}{0.044}{0.140}{0.238}{bS}
\bx{14.19}{-0.052}{-0.034}{-0.016}{0.021}{0.031}{bT}\bx{13.81}{-0.008}{0}{0.010}{0.021}{0.031}{bS}
\bx{13.19}{-0.034}{-0.026}{-0.008}{0.010}{0.031}{bT}\bx{12.81}{0}{0.005}{0.010}{0.018}{0.021}{bS}
\bx{12.19}{-0.013}{-0.010}{-0.008}{-0.003}{0}{bT}\bx{11.81}{-0.026}{-0.016}{-0.008}{0}{0.010}{bS}
\bx{11.19}{-0.010}{-0.008}{-0.005}{-0.003}{0}{bT}\bx{10.81}{-0.010}{-0.008}{-0.003}{0.003}{0.008}{bS}
\bx{10.19}{-0.013}{-0.010}{-0.008}{-0.005}{-0.003}{bT}\bx{9.81}{-0.018}{-0.013}{-0.008}{-0.003}{0.003}{bS}
\bx{9.19}{-0.026}{-0.021}{-0.008}{0.016}{0.018}{bT}\bx{8.81}{-0.072}{-0.047}{-0.034}{-0.016}{-0.008}{bS}
\bx{8.19}{-0.016}{-0.013}{-0.008}{-0.003}{0}{bT}\bx{7.81}{-0.059}{-0.034}{-0.021}{-0.008}{0}{bS}
\bx{7.19}{-0.021}{-0.018}{-0.008}{0.005}{0.010}{bT}\bx{6.81}{-0.021}{-0.016}{-0.005}{0.005}{0.018}{bS}
\bx{6.19}{-0.008}{0}{0.010}{0.023}{0.031}{bT}\bx{5.81}{-0.034}{-0.026}{-0.013}{0}{0.005}{bS}
\bx{5.19}{0.005}{0.008}{0.013}{0.018}{0.021}{bT}\bx{4.81}{-0.008}{-0.005}{0.003}{0.010}{0.013}{bS}
\bx{4.19}{-0.072}{-0.054}{-0.026}{0}{0.031}{bT}\bx{3.81}{-0.351}{-0.209}{-0.145}{-0.072}{-0.034}{bS}
\bx{3.19}{-0.034}{-0.031}{-0.026}{-0.018}{-0.016}{bT}\bx{2.81}{-0.194}{-0.124}{-0.072}{-0.039}{-0.034}{bS}
\bx{2.19}{0}{0.031}{0.052}{0.078}{0.121}{bT}\bx{1.81}{-0.034}{0.010}{0.031}{0.057}{0.070}{bS}
\bx{1.19}{-0.065}{0.018}{0.057}{0.096}{0.121}{bT}\bx{0.81}{-0.119}{-0.059}{-0.047}{0.010}{0.096}{bS}
\end{axis}
\begin{axis}[dfac, at={(670pt,551.3pt)}, width=106pt, height=170.6pt, xmin=-0.415, xmax=0.291, ymin=0.4, ymax=15.6,
  title={Room tempratue}, title style={minimum width=106pt}, xtick={-0.2,0,0.2}, ytick=\empty]
\bx{15.19}{-0.178}{-0.133}{-0.082}{-0.056}{-0.033}{bT}\bx{14.81}{-0.078}{0.029}{0.056}{0.144}{0.260}{bS}
\bx{14.19}{-0.073}{-0.071}{-0.044}{-0.016}{0.056}{bT}\bx{13.81}{0.013}{0.016}{0.029}{0.042}{0.056}{bS}
\bx{13.19}{-0.022}{-0.011}{0.002}{0.018}{0.029}{bT}\bx{12.81}{-0.022}{-0.011}{0.007}{0.022}{0.038}{bS}
\bx{12.19}{-0.018}{-0.016}{-0.011}{-0.009}{-0.007}{bT}\bx{11.81}{-0.011}{-0.007}{-0.002}{0.004}{0.007}{bS}
\bx{11.19}{-0.011}{-0.009}{-0.007}{-0.004}{-0.002}{bT}\bx{10.81}{-0.007}{-0.004}{0}{0.004}{0.007}{bS}
\bx{10.19}{-0.018}{-0.016}{-0.009}{-0.002}{0}{bT}\bx{9.81}{-0.013}{-0.011}{-0.007}{0}{0.002}{bS}
\bx{9.19}{-0.060}{-0.056}{-0.044}{-0.022}{-0.011}{bT}\bx{8.81}{-0.038}{-0.033}{-0.022}{-0.007}{0.007}{bS}
\bx{8.19}{-0.044}{-0.033}{-0.016}{0}{0.029}{bT}\bx{7.81}{-0.029}{-0.022}{-0.016}{-0.007}{0.007}{bS}
\bx{7.19}{-0.016}{-0.011}{-0.004}{0.004}{0.007}{bT}\bx{6.81}{-0.022}{-0.016}{-0.009}{0}{0.007}{bS}
\bx{6.19}{-0.029}{-0.007}{0.007}{0.024}{0.029}{bT}\bx{5.81}{-0.022}{-0.016}{0.011}{0.033}{0.044}{bS}
\bx{5.19}{0}{0.007}{0.016}{0.029}{0.033}{bT}\bx{4.81}{-0.022}{-0.020}{-0.009}{0.004}{0.007}{bS}
\bx{4.19}{-0.271}{-0.222}{-0.167}{-0.118}{-0.056}{bT}\bx{3.81}{-0.100}{-0.062}{-0.044}{-0.022}{0.011}{bS}
\bx{3.19}{-0.089}{-0.082}{-0.067}{-0.051}{-0.022}{bT}\bx{2.81}{-0.056}{-0.049}{-0.033}{-0.016}{0.011}{bS}
\bx{2.19}{-0.067}{-0.018}{0.029}{0.084}{0.140}{bT}\bx{1.81}{-0.100}{-0.073}{-0.056}{-0.029}{0.007}{bS}
\bx{1.19}{-0.089}{-0.056}{0.044}{0.100}{0.156}{bT}\bx{0.81}{-0.133}{-0.104}{0.040}{0.051}{0.118}{bS}
\end{axis}
% D top legend
\begin{axis}[at={(560pt,551.3pt)}, anchor=north west, scale only axis, width=106.7pt, height=170.6pt, hide axis, xmin=0, xmax=1, ymin=0, ymax=1,
  legend columns=2, legend style={at={(0.843,1.1665)}, anchor=west, draw=none, fill=none, font=\fontsize{7.4}{8}\selectfont, inner sep=0pt, /tikz/every even column/.append style={column sep=5pt}},
  legend image code/.code={\draw[#1] (0.5pt,-3pt) rectangle (8.5pt,3pt); \draw[#1] (0.5pt,0pt) -- (8.5pt,0pt); \draw[#1] (4.5pt,3pt) -- (4.5pt,4.5pt); \draw[#1] (4.5pt,-3pt) -- (4.5pt,-4.5pt);}]
\addplot[draw=none, forget plot] coordinates {(0,0)};
\addlegendimage{draw=salm, fill=salm!45, line width=0.4pt}\addlegendentry{No}
\addlegendimage{draw=tealc, fill=tealc!45, line width=0.4pt}\addlegendentry{Exercise}
\end{axis}
%================ D bottom
\def\bxe{0.36}
\begin{axis}[dfac, at={(536pt,312.3pt)}, width=118pt, height=171pt, xmin=-0.375, xmax=0.182, ymin=0.4, ymax=18.6,
  title={No exercise}, title style={minimum width=118pt}, xtick={-0.3,-0.2,-0.1,0,0.1}, ytick={1,...,18},
  yticklabels={Staphylococcus,Oligella,Jeotgalicoccus,Atopostipes,Anaerovorax,Enteractinococcus,Pseudogracilibacillus,Fuscatenibacter,Corynebacterium,Sporosarcina,Leucobacter,RuminococcaceaeTCG-004,Proteus,Facklamia,Sellimonas,Collinsella,Allobaculum,Psychrobacter}]
\bx{18.185}{-0.088}{-0.063}{-0.047}{-0.031}{0.006}{bT}\bx{17.815}{-0.353}{-0.216}{-0.145}{-0.078}{-0.044}{bS}
\bx{17.185}{-0.083}{-0.075}{-0.059}{-0.036}{-0.028}{bT}\bx{16.815}{-0.036}{0.016}{0.034}{0.058}{0.094}{bS}
\bx{16.185}{-0.013}{-0.011}{-0.009}{-0.008}{-0.006}{bT}\bx{15.815}{-0.009}{-0.006}{0.003}{0.016}{0.019}{bS}
\bx{15.185}{-0.036}{-0.028}{-0.020}{-0.009}{0}{bT}\bx{14.815}{-0.020}{-0.013}{-0.005}{0.006}{0.011}{bS}
\bx{14.185}{-0.047}{-0.036}{-0.025}{-0.009}{0}{bT}\bx{13.815}{-0.078}{-0.047}{-0.036}{-0.025}{-0.020}{bS}
\bx{13.185}{-0.016}{-0.009}{0}{0.011}{0.019}{bT}\bx{12.815}{-0.036}{-0.028}{-0.013}{0.003}{0.011}{bS}
\bx{12.185}{-0.028}{-0.016}{0.006}{0.034}{0.042}{bT}\bx{11.815}{-0.075}{-0.047}{-0.028}{0.016}{0.058}{bS}
\bx{11.185}{-0.016}{-0.014}{-0.011}{-0.008}{-0.006}{bT}\bx{10.815}{-0.022}{-0.020}{-0.016}{-0.011}{-0.009}{bS}
\bx{10.185}{-0.011}{-0.010}{-0.009}{-0.009}{-0.008}{bT}\bx{9.815}{-0.022}{-0.020}{-0.017}{-0.014}{-0.013}{bS}
\bx{9.185}{-0.013}{-0.009}{-0.005}{0}{0.003}{bT}\bx{8.815}{-0.008}{-0.007}{-0.005}{-0.004}{-0.003}{bS}
\bx{8.185}{-0.072}{-0.055}{-0.028}{0.006}{0.097}{bT}\bx{7.815}{-0.036}{-0.028}{0.019}{0.042}{0.058}{bS}
\bx{7.185}{-0.009}{-0.008}{-0.003}{0.003}{0.005}{bT}\bx{6.815}{-0.020}{-0.017}{-0.013}{-0.008}{-0.005}{bS}
\bx{6.185}{-0.013}{-0.008}{0}{0.009}{0.022}{bT}\bx{5.815}{-0.020}{-0.017}{-0.011}{-0.003}{0}{bS}
\bx{5.185}{0.006}{0.009}{0.016}{0.022}{0.027}{bT}\bx{4.815}{-0.052}{-0.031}{-0.013}{0.011}{0.019}{bS}
\bx{4.185}{-0.020}{-0.013}{0}{0.013}{0.022}{bT}\bx{3.815}{-0.025}{-0.020}{-0.013}{-0.005}{0.003}{bS}
\bx{3.185}{-0.036}{-0.013}{0}{0.011}{0.038}{bT}\bx{2.815}{-0.094}{-0.063}{-0.044}{-0.031}{-0.028}{bS}
\bx{2.185}{-0.056}{-0.047}{-0.036}{-0.020}{0.011}{bT}\bx{1.815}{-0.197}{-0.125}{-0.088}{-0.044}{-0.031}{bS}
\bx{1.185}{-0.083}{-0.011}{0.027}{0.066}{0.105}{bT}\bx{0.815}{-0.094}{-0.088}{-0.067}{-0.041}{-0.028}{bS}
\end{axis}
\begin{axis}[dfac, at={(657.7pt,312.3pt)}, width=118.3pt, height=171pt, xmin=-0.286, xmax=0.188, ymin=0.4, ymax=18.6,
  title={Exercise}, title style={minimum width=118.3pt}, xtick={-0.2,-0.1,0,0.1}, ytick=\empty]
\bx{18.185}{-0.265}{-0.216}{-0.169}{-0.123}{-0.060}{bT}\bx{17.815}{-0.069}{-0.056}{-0.029}{-0.003}{0.031}{bS}
\bx{17.185}{-0.063}{-0.019}{0.031}{0.077}{0.135}{bT}\bx{16.815}{0.015}{0.031}{0.051}{0.073}{0.124}{bS}
\bx{16.185}{-0.009}{-0.008}{-0.007}{-0.005}{-0.004}{bT}\bx{15.815}{-0.009}{-0.007}{-0.001}{0.004}{0.007}{bS}
\bx{15.185}{-0.036}{-0.028}{-0.019}{-0.007}{0.004}{bT}\bx{14.815}{-0.009}{-0.003}{0.004}{0.011}{0.017}{bS}
\bx{14.185}{-0.060}{-0.056}{-0.043}{-0.033}{-0.027}{bT}\bx{13.815}{-0.029}{-0.023}{-0.009}{0.007}{0.020}{bS}
\bx{13.185}{-0.029}{-0.025}{-0.012}{0}{0.004}{bT}\bx{12.815}{-0.003}{0}{0.005}{0.011}{0.015}{bS}
\bx{12.185}{-0.029}{0.007}{0.020}{0.033}{0.041}{bT}\bx{11.815}{0.024}{0.031}{0.039}{0.048}{0.055}{bS}
\bx{11.185}{-0.023}{-0.019}{-0.009}{0.001}{0.004}{bT}\bx{10.815}{-0.009}{-0.008}{-0.007}{-0.005}{-0.004}{bS}
\bx{10.185}{-0.027}{-0.023}{-0.015}{-0.007}{0}{bT}\bx{9.815}{-0.016}{-0.013}{-0.011}{-0.008}{-0.007}{bS}
\bx{9.185}{-0.009}{-0.008}{-0.007}{-0.004}{-0.003}{bT}\bx{8.815}{-0.016}{-0.013}{-0.007}{0}{0.004}{bS}
\bx{8.185}{-0.076}{-0.047}{-0.025}{0.001}{0.028}{bT}\bx{7.815}{-0.152}{-0.083}{-0.009}{0.057}{0.088}{bS}
\bx{7.185}{-0.007}{-0.003}{0.003}{0.008}{0.011}{bT}\bx{6.815}{-0.009}{-0.008}{-0.007}{-0.006}{-0.005}{bS}
\bx{6.185}{-0.016}{-0.012}{-0.001}{0.011}{0.017}{bT}\bx{5.815}{-0.012}{-0.011}{-0.009}{-0.008}{-0.007}{bS}
\bx{5.185}{0.004}{0.009}{0.017}{0.024}{0.028}{bT}\bx{4.815}{-0.003}{0.001}{0.009}{0.017}{0.024}{bS}
\bx{4.185}{-0.023}{-0.019}{0.001}{0.024}{0.031}{bT}\bx{3.815}{-0.012}{-0.009}{-0.005}{-0.001}{0.001}{bS}
\bx{3.185}{-0.085}{-0.056}{-0.039}{-0.007}{0.041}{bT}\bx{2.815}{-0.027}{-0.025}{-0.019}{-0.012}{-0.009}{bS}
\bx{2.185}{-0.083}{-0.079}{-0.069}{-0.052}{-0.023}{bT}\bx{1.815}{-0.028}{-0.027}{-0.023}{-0.016}{-0.015}{bS}
\bx{1.185}{-0.145}{-0.123}{-0.023}{0.079}{0.167}{bT}\bx{0.815}{-0.113}{-0.047}{-0.029}{0}{0.031}{bS}
\end{axis}
% D bottom legend
\begin{axis}[at={(536pt,312.3pt)}, anchor=north west, scale only axis, width=118pt, height=171pt, hide axis, xmin=0, xmax=1, ymin=0, ymax=1,
  legend columns=2, legend style={at={(0.39,1.166)}, anchor=west, draw=none, fill=none, font=\fontsize{7.4}{8}\selectfont, inner sep=0pt, /tikz/every even column/.append style={column sep=9pt}},
  legend image code/.code={\draw[#1] (0.5pt,-3pt) rectangle (8.5pt,3pt); \draw[#1] (0.5pt,0pt) -- (8.5pt,0pt); \draw[#1] (4.5pt,3pt) -- (4.5pt,4.5pt); \draw[#1] (4.5pt,-3pt) -- (4.5pt,-4.5pt);}]
\addplot[draw=none, forget plot] coordinates {(0,0)};
\addlegendimage{draw=salm, fill=salm!45, line width=0.4pt}\addlegendentry{Cold exposure}
\addlegendimage{draw=tealc, fill=tealc!45, line width=0.4pt}\addlegendentry{Room tempratue}
\end{axis}
\node[font=\fontsize{7.4}{8}\selectfont, text=black!85] at (660pt,116pt) {Sqrt Abundance difference( Day35-Day0)};
\end{tikzpicture}
\end{document}
